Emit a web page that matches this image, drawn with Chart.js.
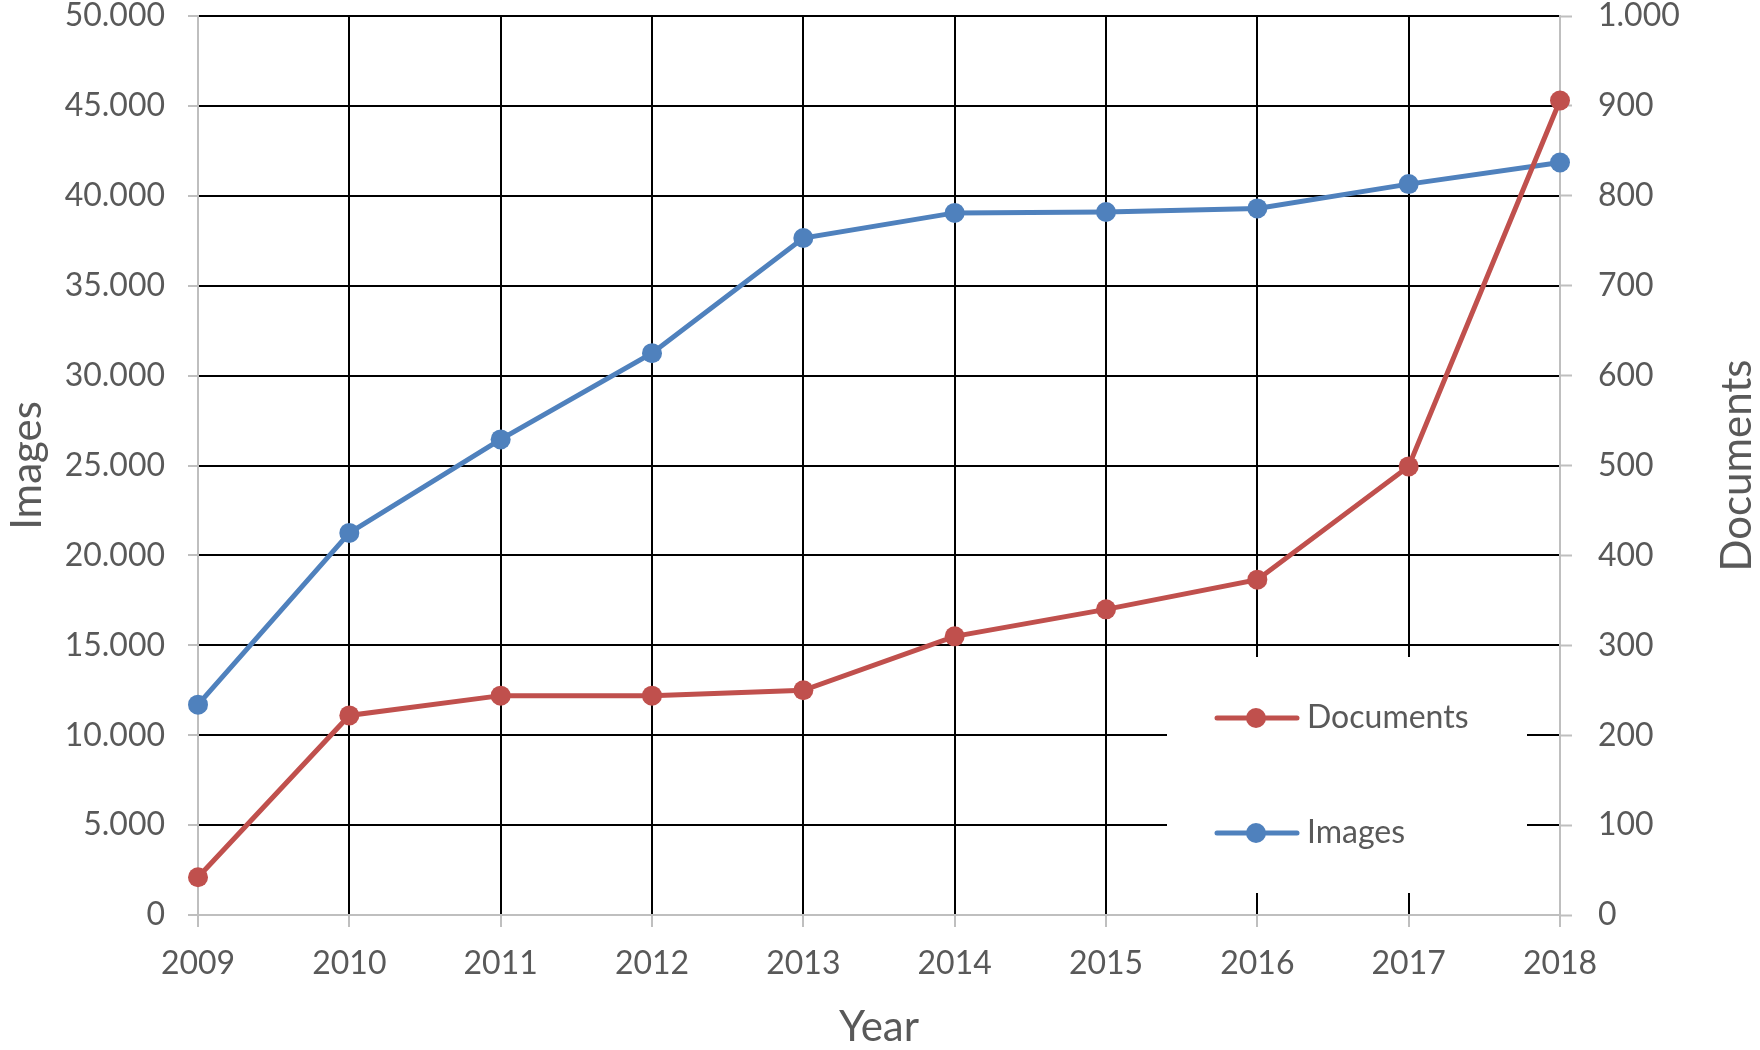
<!DOCTYPE html>
<html>
<head>
<meta charset="utf-8">
<script src="https://cdn.jsdelivr.net/npm/chart.js@4.4.0/dist/chart.umd.min.js"></script>
<style>
  html, body { margin: 0; padding: 0; background: #fff; }
  #wrap { width: 1760px; height: 1050px; }
</style>
</head>
<body>
<div id="wrap"><canvas id="myChart" width="1760" height="1050"></canvas></div>
<script>
// values
const years = ["2009", "2010", "2011", "2012", "2013", "2014", "2015", "2016", "2017", "2018"]
const documents = [42, 222, 244, 244, 250, 310, 340, 373, 499, 906]
const images = [11700, 21250, 26450, 31250, 37650, 39050, 39100, 39300, 40650, 41850]

const RED = "#C0504D"
const BLUE = "#4F81BD"
const GREY_TXT = "#595959"
const AXIS = "#BFBFBF"
const FONT = "Lato"

const dots = (v) => String(v).replace(/\B(?=(\d{3})+(?!\d))/g, ".")

// legend box sitting inside the plot, like the excel one
const insideLegend = {
    id: "insideLegend",
    beforeDatasetsDraw(chart) {
        const ctx = chart.ctx
        const ca = chart.chartArea
        const bx = ca.right - 393, by = ca.bottom - 258, bw = 360, bh = 236
        ctx.save()
        ctx.fillStyle = "#fff"
        ctx.fillRect(bx, by, bw, bh)
        const rows = [by + 61, by + 176]
        chart.data.datasets.forEach((ds, i) => {
            const y = rows[i]
            ctx.strokeStyle = ds.borderColor
            ctx.lineWidth = ds.borderWidth
            ctx.lineCap = "round"
            ctx.beginPath()
            ctx.moveTo(bx + 50, y)
            ctx.lineTo(bx + 130, y)
            ctx.stroke()
            ctx.fillStyle = ds.borderColor
            ctx.beginPath()
            ctx.arc(bx + 89, y, ds.pointRadius, 0, Math.PI * 2)
            ctx.fill()
            ctx.fillStyle = GREY_TXT
            ctx.font = "32px " + FONT
            ctx.textAlign = "left"
            ctx.textBaseline = "middle"
            ctx.fillText(ds.label, bx + 140, y)
        })
        ctx.restore()
    }
}

// right axis title reads bottom-to-top in the reference, chart.js would turn it the other way
const rightTitle = {
    id: "rightTitle",
    afterDraw(chart) {
        const sc = chart.scales.y1
        const ctx = chart.ctx
        ctx.save()
        ctx.translate(sc.right - 23, (chart.chartArea.top + chart.chartArea.bottom) / 2)
        ctx.rotate(-Math.PI / 2)
        ctx.fillStyle = GREY_TXT
        ctx.font = "42px " + FONT
        ctx.textAlign = "center"
        ctx.textBaseline = "middle"
        ctx.fillText(sc.options.title.text, 0, 0)
        ctx.restore()
    }
}

// keep the tick padding from pushing the plot top down
const fitY = (w) => (s) => { s.width = w; s.paddingTop = 0; s.paddingBottom = 0 }

function draw() {
    const ctx = document.getElementById("myChart").getContext("2d")
    const last = years.length - 1
    new Chart(ctx, {
        type: "line",
        data: {
            labels: years,
            datasets: [
                {label: "Documents", data: documents, yAxisID: "y1", borderColor: RED, backgroundColor: RED,
                 borderWidth: 5, pointRadius: 10, pointHoverRadius: 10, pointBorderWidth: 0,
                 pointBackgroundColor: RED, tension: 0, clip: false},
                {label: "Images", data: images, yAxisID: "y", borderColor: BLUE, backgroundColor: BLUE,
                 borderWidth: 5, pointRadius: 10, pointHoverRadius: 10, pointBorderWidth: 0,
                 pointBackgroundColor: BLUE, tension: 0, clip: false}
            ]
        },
        plugins: [insideLegend, rightTitle],
        options: {
            responsive: false,
            animation: false,
            layout: {padding: {top: 16, left: 0, right: 0, bottom: 0}},
            plugins: {legend: {display: false}, tooltip: {enabled: false}},
            scales: {
                x: {
                    offset: false,
                    grid: {
                        color: (c) => (c.index === 0 || c.index === last) ? "rgba(0,0,0,0)" : "#000",
                        lineWidth: 2, tickColor: AXIS, tickLength: 12, tickWidth: 2
                    },
                    border: {color: AXIS, width: 2},
                    ticks: {color: GREY_TXT, font: {family: FONT, size: 32, lineHeight: 1.2}, padding: 17, maxRotation: 0},
                    title: {display: true, text: "Year", color: GREY_TXT, font: {family: FONT, size: 42, lineHeight: 1.05}, padding: {top: 0, bottom: 0}},
                    afterFit: (s) => { s.height = 135 }
                },
                y: {
                    position: "left",
                    min: 0, max: 50000,
                    grid: {
                        color: (c) => c.index === 0 ? "rgba(0,0,0,0)" : "#000",
                        lineWidth: 2, tickColor: AXIS, tickLength: 10, tickWidth: 2
                    },
                    border: {color: AXIS, width: 2},
                    ticks: {stepSize: 5000, color: GREY_TXT, font: {family: FONT, size: 32, lineHeight: 1}, padding: 23, callback: (v) => dots(v)},
                    title: {display: true, text: "Images", color: GREY_TXT, font: {family: FONT, size: 42, lineHeight: 1.2}, padding: {top: 2, bottom: 0}},
                    afterFit: fitY(198)
                },
                y1: {
                    position: "right",
                    min: 0, max: 1000,
                    grid: {drawOnChartArea: false, tickColor: AXIS, tickLength: 12, tickWidth: 2},
                    border: {color: AXIS, width: 2},
                    ticks: {stepSize: 100, color: GREY_TXT, font: {family: FONT, size: 32, lineHeight: 1}, padding: 26, callback: (v) => dots(v)},
                    title: {display: false, text: "Documents"},
                    afterFit: fitY(200)
                }
            }
        }
    })
}

document.fonts.load("32px " + FONT).then(draw, draw)
</script>
</body>
</html>
